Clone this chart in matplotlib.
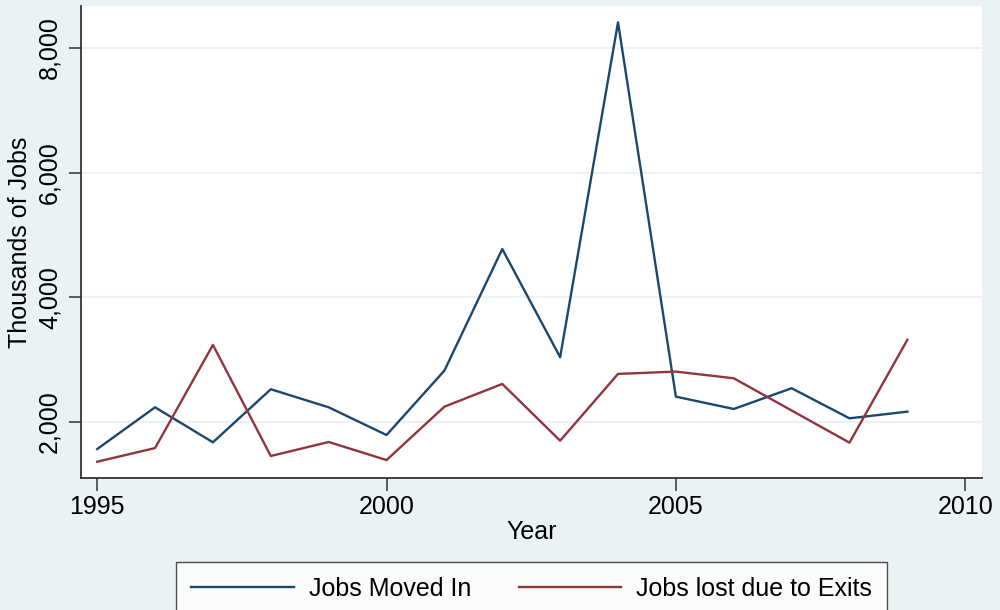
import matplotlib.pyplot as plt
import matplotlib.ticker as mticker

years = [1995, 1996, 1997, 1998, 1999, 2000, 2001, 2002, 2003, 2004,
         2005, 2006, 2007, 2008, 2009]
moved_in = [1561, 2231, 1669, 2521, 2231, 1786, 2820, 4772, 3035, 8412,
            2402, 2204, 2537, 2054, 2161]
lost_exits = [1357, 1577, 3233, 1449, 1674, 1384, 2241, 2606, 1695, 2767,
              2804, 2697, 2180, 1663, 3314]

bg = '#eaf2f3'
plt.rcParams['font.family'] = ['Liberation Sans', 'DejaVu Sans']

fig = plt.figure(figsize=(10, 6.1), dpi=100, facecolor=bg)
ax = fig.add_axes([0.081, 0.2164, 0.901, 0.7738])
ax.set_facecolor('white')

ax.plot(years, moved_in, color='#1a476f', lw=1.7, label='Jobs Moved In')
ax.plot(years, lost_exits, color='#90353b', lw=1.7, label='Jobs lost due to Exits')

ax.set_xlim(1994.72, 2010.29)
ax.set_ylim(1096, 8674)
ax.set_xticks([1995, 2000, 2005, 2010])
ax.set_yticks([2000, 4000, 6000, 8000])
ax.yaxis.set_major_formatter(mticker.StrMethodFormatter('{x:,.0f}'))
ax.grid(axis='y', color=bg, lw=1.5)
ax.set_axisbelow(True)

for s in ['top', 'right']:
    ax.spines[s].set_visible(False)
for s in ['left', 'bottom']:
    ax.spines[s].set_color('#333333')
    ax.spines[s].set_linewidth(1.3)

ax.tick_params(length=9, width=1.1, color='#333333', labelsize=18, pad=3)
ax.tick_params(axis='y', pad=5)
for lab in ax.get_yticklabels():
    lab.set_rotation(90)
    lab.set_va('center')

ax.set_xlabel('Year', fontsize=18, labelpad=1)
ax.set_ylabel('Thousands of Jobs', fontsize=18, labelpad=4)

leg = fig.legend(loc='upper center', bbox_to_anchor=(0.5315, 1 - 562 / 610),
                 ncol=2, fontsize=18, frameon=True, fancybox=False,
                 handlelength=4.1, handletextpad=0.6, columnspacing=1.9,
                 borderpad=0.6, borderaxespad=0)
leg.get_frame().set_edgecolor('#222222')
leg.get_frame().set_linewidth(1.0)

fig.savefig('out.png', dpi=100, facecolor=bg)
